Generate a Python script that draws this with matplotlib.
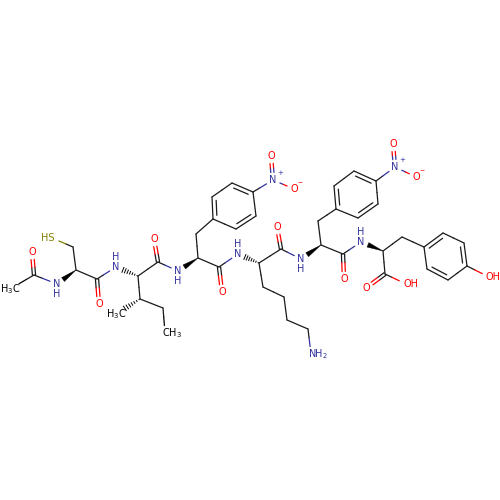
import numpy as np
import matplotlib
matplotlib.use('Agg')
import matplotlib.pyplot as plt
from matplotlib.patches import Polygon

# atom positions (pixels, y down)
atom_names = ['Me', 'Cac', 'Oac', 'N1', 'CA1', 'CB1', 'S', 'C1', 'O1',
              'N2', 'CA2', 'C2', 'O2', 'CB2', 'Me2', 'CG2', 'CD2',
              'N3', 'CA3', 'CB3', 'R1a', 'R1b', 'R1c', 'R1d', 'R1e', 'R1f',
              'NO1', 'O1a', 'O1b', 'C3', 'O3',
              'N4', 'CA4', 'C4', 'O4', 'CB4', 'CG4', 'CD4', 'CE4', 'NZ',
              'N5', 'CA5', 'CB5', 'R2a', 'R2b', 'R2c', 'R2d', 'R2e', 'R2f',
              'NO2', 'O2a', 'O2b', 'C5', 'O5',
              'N6', 'CA6', 'CB6', 'R3a', 'R3b', 'R3c', 'R3d', 'R3e', 'R3f',
              'OH', 'COOH', 'Od', 'Os']
atom_x = [10, 34, 32, 57, 76, 73, 52, 97, 99,
          116, 138, 158, 154, 140, 116, 163, 165,
          178, 198, 196, 213, 212, 232, 253, 256, 236,
          273, 271, 294, 219, 222,
          238, 259, 281, 277, 263, 284, 287, 308, 311,
          301, 321, 318, 336, 334, 354, 376, 378, 358,
          395, 393, 416, 343, 344,
          361, 383, 402, 424, 443, 464, 467, 448, 427,
          489, 385, 366, 406]
atom_y = [289, 275, 252, 284, 270, 247, 238, 279, 304,
          267, 276, 262, 239, 299, 314, 308, 333,
          271, 258, 234, 219, 197, 183, 192, 216, 229,
          180, 156, 189, 267, 292,
          254, 263, 249, 227, 287, 297, 320, 329, 354,
          259, 245, 221, 209, 186, 171, 181, 204, 218,
          167, 144, 177, 254, 279,
          242, 251, 237, 247, 233, 243, 266, 280, 269,
          277, 274, 288, 284]

single_bonds = [('Me', 'Cac'), ('Cac', 'N1'), ('CA1', 'CB1'), ('CB1', 'S'), ('CA1', 'C1'),
                ('C1', 'N2'), ('CA2', 'C2'), ('CA2', 'CB2'), ('CB2', 'CG2'), ('CG2', 'CD2'),
                ('C2', 'N3'), ('CA3', 'CB3'), ('CB3', 'R1a'), ('CA3', 'C3'), ('C3', 'N4'),
                ('R1b', 'R1c'), ('R1d', 'R1e'), ('R1f', 'R1a'), ('R1d', 'NO1'), ('NO1', 'O1b'),
                ('CA4', 'C4'), ('CA4', 'CB4'), ('CB4', 'CG4'), ('CG4', 'CD4'), ('CD4', 'CE4'),
                ('CE4', 'NZ'), ('C4', 'N5'), ('CA5', 'CB5'), ('CB5', 'R2a'), ('CA5', 'C5'),
                ('R2b', 'R2c'), ('R2d', 'R2e'), ('R2f', 'R2a'), ('R2d', 'NO2'), ('NO2', 'O2b'),
                ('C5', 'N6'), ('CA6', 'CB6'), ('CB6', 'R3a'), ('R3b', 'R3c'), ('R3d', 'R3e'),
                ('R3f', 'R3a'), ('R3d', 'OH'), ('CA6', 'COOH'), ('COOH', 'Os')]
double_bonds = [('Cac', 'Oac'), ('C1', 'O1'), ('C2', 'O2'), ('C3', 'O3'), ('C4', 'O4'),
                ('C5', 'O5'), ('COOH', 'Od'), ('NO1', 'O1a'), ('NO2', 'O2a')]
ring_double_bonds = [('R1a', 'R1b', 'R1d'), ('R1c', 'R1d', 'R1f'), ('R1e', 'R1f', 'R1b'),
                     ('R2a', 'R2b', 'R2d'), ('R2c', 'R2d', 'R2f'), ('R2e', 'R2f', 'R2b'),
                     ('R3a', 'R3b', 'R3d'), ('R3c', 'R3d', 'R3f'), ('R3e', 'R3f', 'R3b')]
wedge_bonds = [('CA1', 'N1'), ('CA3', 'N3'), ('CA5', 'N5'), ('CA6', 'N6')]
hash_bonds = [('CA2', 'N2'), ('CB2', 'Me2'), ('CA4', 'N4')]

# label text per atom, colour key and horizontal alignment
labels = {'Me': ('H$_3$C', 'k', 'center'), 'Oac': ('O', 'O', 'center'), 'N1': ('N', 'N', 'center'),
          'S': ('HS', 'S', 'right'), 'O1': ('O', 'O', 'center'), 'N2': ('N', 'N', 'center'),
          'O2': ('O', 'O', 'center'), 'Me2': ('H$_3$C', 'k', 'center'), 'CD2': ('CH$_3$', 'k', 'left'),
          'N3': ('N', 'N', 'center'), 'NO1': ('N', 'N', 'center'), 'O1a': ('O', 'O', 'center'),
          'O1b': ('O', 'O', 'center'), 'O3': ('O', 'O', 'center'), 'N4': ('N', 'N', 'center'),
          'O4': ('O', 'O', 'center'), 'NZ': ('NH$_2$', 'N', 'left'), 'N5': ('N', 'N', 'center'),
          'NO2': ('N', 'N', 'center'), 'O2a': ('O', 'O', 'center'), 'O2b': ('O', 'O', 'center'),
          'O5': ('O', 'O', 'center'), 'N6': ('N', 'N', 'center'), 'OH': ('OH', 'O', 'left'),
          'Od': ('O', 'O', 'center'), 'Os': ('OH', 'O', 'left')}
wide_labels = ['Me', 'Me2']
h_above = ['N2', 'N4', 'N6']
h_below = ['N1', 'N3', 'N5']
plus_on = ['NO1', 'NO2']
minus_on = ['O1b', 'O2b']

colors = {'k': '#000000', 'N': '#33339e', 'O': '#ff0000', 'S': '#808000'}
bond_k = '#1a1a1a'
lw = 0.9
label_gap = 7.5

pos = {n: np.array([x, y], float) for n, x, y in zip(atom_names, atom_x, atom_y)}


def atom_color(name):
    if name in labels:
        return colors[labels[name][1]]
    return bond_k


def gap_of(name):
    if name in wide_labels:
        return 10.5
    return label_gap


def trim(a, b):
    # pull bond ends back from atom labels
    p, q = pos[a].copy(), pos[b].copy()
    u = (q - p) / np.linalg.norm(q - p)
    if a in labels:
        p = p + u * gap_of(a)
    if b in labels:
        q = q - u * gap_of(b)
    return p, q


def draw_half(ax, p, q, ca, cb):
    m = (p + q) / 2
    ax.plot([p[0], m[0]], [p[1], m[1]], color=ca, lw=lw, solid_capstyle='round')
    ax.plot([m[0], q[0]], [m[1], q[1]], color=cb, lw=lw, solid_capstyle='round')


fig = plt.figure(figsize=(5, 5), dpi=100)
ax = fig.add_axes([0, 0, 1, 1])
ax.set_xlim(0, 500)
ax.set_ylim(500, 0)
ax.axis('off')

for a, b in single_bonds:
    p, q = trim(a, b)
    draw_half(ax, p, q, atom_color(a), atom_color(b))

for a, b in double_bonds:
    p, q = trim(a, b)
    u = (q - p) / np.linalg.norm(q - p)
    n = np.array([-u[1], u[0]]) * 1.6
    draw_half(ax, p + n, q + n, atom_color(a), atom_color(b))
    draw_half(ax, p - n, q - n, atom_color(a), atom_color(b))

for a, b, other in ring_double_bonds:
    p, q = pos[a], pos[b]
    ax.plot([p[0], q[0]], [p[1], q[1]], color=bond_k, lw=lw, solid_capstyle='round')
    u = (q - p) / np.linalg.norm(q - p)
    n = np.array([-u[1], u[0]])
    if np.dot(n, pos[other] - p) < 0:
        n = -n
    ax.plot([p[0] + n[0] * 4 + u[0] * 3.5, q[0] + n[0] * 4 - u[0] * 3.5],
            [p[1] + n[1] * 4 + u[1] * 3.5, q[1] + n[1] * 4 - u[1] * 3.5],
            color=bond_k, lw=lw, solid_capstyle='round')

for a, b in wedge_bonds:
    p, q = trim(a, b)
    u = (q - p) / np.linalg.norm(q - p)
    n = np.array([-u[1], u[0]]) * 2.4
    ax.add_patch(Polygon([p, q + n, q - n], closed=True, fc='k', ec='k', lw=0.3))

for a, b in hash_bonds:
    p, q = trim(a, b)
    u = q - p
    n = np.array([-u[1], u[0]]) / np.linalg.norm(u) * 2.6
    for t in np.linspace(0.06, 1, 7):
        c = p + u * t
        ax.plot([c[0] - n[0] * t, c[0] + n[0] * t], [c[1] - n[1] * t, c[1] + n[1] * t],
                color='k', lw=0.7)

font = dict(family='DejaVu Sans', fontsize=7, va='center')
for name, (txt, key, ha) in labels.items():
    x, y = pos[name]
    if ha == 'right':
        x += 2
    if ha == 'left':
        x -= 3
    ax.text(x, y, txt, color=colors[key], ha=ha, **font)
for name in h_above:
    ax.text(pos[name][0], pos[name][1] - 10, 'H', color=colors['N'], ha='center', **font)
for name in h_below:
    ax.text(pos[name][0], pos[name][1] + 10, 'H', color=colors['N'], ha='center', **font)
for name in plus_on:
    ax.text(pos[name][0] + 7, pos[name][1] - 7, '+', color=colors['N'], ha='center',
            family='DejaVu Sans', fontsize=5, va='center')
for name in minus_on:
    ax.text(pos[name][0] + 6.5, pos[name][1] - 7, '\u2212', color=colors['O'], ha='center',
            family='DejaVu Sans', fontsize=4.5, va='center')

fig.savefig('out.png', dpi=100)
